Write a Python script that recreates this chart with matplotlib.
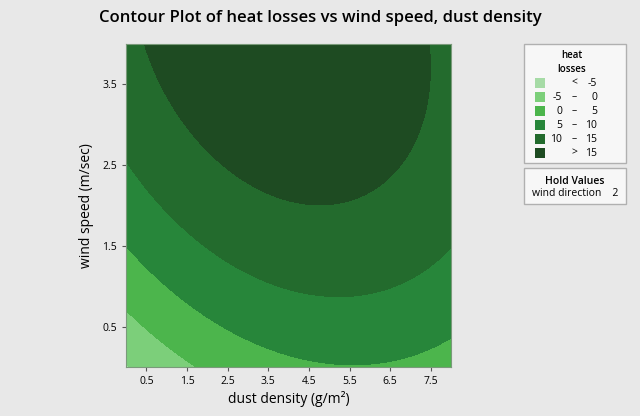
import numpy as np
import matplotlib
matplotlib.use('Agg')
import matplotlib.pyplot as plt
from matplotlib.patches import Rectangle

plt.rcParams['font.family'] = ['Open Sans', 'DejaVu Sans']

# response surface (wind direction held at 2)
# heat = c0 + c1*x + c2*y + c3*x^2 + c4*y^2 + c5*x*y
coefs = [-5.2635, 3.6118, 8.0847, -0.3231, -0.8225, -0.2641]
levels = [-100, -5, 0, 5, 10, 15, 100]
level_labels = [('', '<', '-5'), ('-5', '\u2013', '0'), ('0', '\u2013', '5'),
                ('5', '\u2013', '10'), ('10', '\u2013', '15'), ('', '>', '15')]
colors = ['#a6dba6', '#7ccf7a', '#4cb54c', '#27863a', '#236b2d', '#1e4b22']
xticks = [0.5, 1.5, 2.5, 3.5, 4.5, 5.5, 6.5, 7.5]
yticks = [0.5, 1.5, 2.5, 3.5]

x = np.linspace(0, 8, 300)
y = np.linspace(0, 4, 200)
X, Y = np.meshgrid(x, y)
c0, c1, c2, c3, c4, c5 = coefs
Z = c0 + c1 * X + c2 * Y + c3 * X**2 + c4 * Y**2 + c5 * X * Y

fig = plt.figure(figsize=(6.4, 4.16), dpi=100, facecolor='#e8e8e8')
ax = fig.add_axes([0.197, 0.118, 0.508, 0.776])
ax.contourf(X, Y, Z, levels=levels, colors=colors)
ax.set_xlim(0, 8)
ax.set_ylim(0, 4)
ax.set_xticks(xticks)
ax.set_yticks(yticks)
ax.tick_params(labelsize=7.5, length=3, color='#555555')
for s in ax.spines.values():
    s.set_color('#7a9a7a')
ax.set_xlabel('dust density (g/m²)', fontsize=10, labelpad=3)
ax.set_ylabel('wind speed (m/sec)', fontsize=10, labelpad=6)
fig.suptitle('Contour Plot of heat losses vs wind speed, dust density',
             fontsize=12, fontweight='semibold', x=0.5, y=0.975)


def px(xp, yp):
    return xp / 640, 1 - yp / 416


# legend box
lx, ly = px(524, 163)
fig.patches.append(Rectangle((lx, ly), 102 / 640, 119 / 416, transform=fig.transFigure,
                             facecolor='#f7f7f7', edgecolor='#b0b0b0', lw=1))
fig.text(*px(572, 56), 'heat', fontsize=7, ha='center', va='center', weight='semibold')
fig.text(*px(572, 70), 'losses', fontsize=7, ha='center', va='center', weight='semibold')
for i, (lo, dash, hi) in enumerate(level_labels):
    yy = 83 + 14 * i
    sx, sy = px(535, yy + 5)
    fig.patches.append(Rectangle((sx, sy), 10 / 640, 10 / 416, transform=fig.transFigure,
                                 facecolor=colors[i], edgecolor='none'))
    fig.text(*px(562, yy), lo, fontsize=7.5, ha='right', va='center')
    fig.text(*px(574, yy), dash, fontsize=7.5, ha='center', va='center')
    fig.text(*px(597, yy), hi, fontsize=7.5, ha='right', va='center')

hx, hy = px(524, 204)
fig.patches.append(Rectangle((hx, hy), 102 / 640, 36 / 416, transform=fig.transFigure,
                             facecolor='#f7f7f7', edgecolor='#b0b0b0', lw=1))
fig.text(*px(575, 181), 'Hold Values', fontsize=7.5, ha='center', va='center', weight='semibold')
fig.text(*px(575, 194), 'wind direction    2', fontsize=7.5, ha='center', va='center')

fig.savefig('out.png', dpi=100, facecolor=fig.get_facecolor())
